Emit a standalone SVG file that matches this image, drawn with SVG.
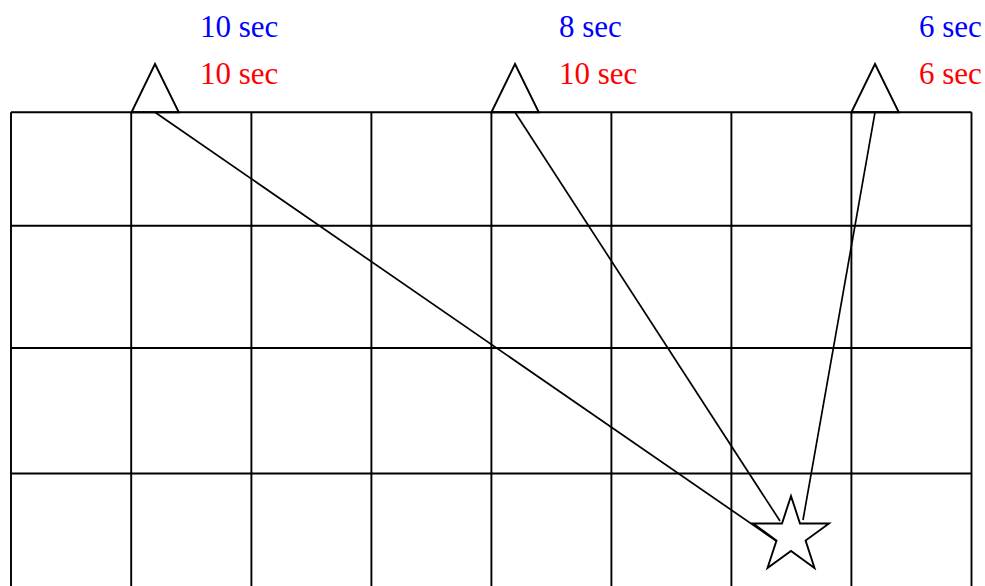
<svg xmlns="http://www.w3.org/2000/svg" width="985" height="586" viewBox="0 0 985 586">
<style>
.g{stroke:#000;stroke-width:1.9;fill:none}
.c{stroke:#000;stroke-width:1.7;fill:none}
.sh{stroke:#000;stroke-width:1.9;fill:none;stroke-linejoin:miter}
text{font-family:"Liberation Serif","Times New Roman",serif;font-size:31px}
.b{fill:#0000ff}.r{fill:#ff0000}
</style>
<rect width="985" height="586" fill="#fff"/>
<g id="grid" class="g">
<path d="M11,112.3H971.5M11,225.7H971.5M11,348H971.5M11,473.5H971.5"/>
<path d="M11,112.3V586M131.2,112.3V586M251.4,112.3V586M371.4,112.3V586M491.4,112.3V586M611.4,112.3V586M731.4,112.3V586M851.4,112.3V586M971.5,112.3V586"/>
</g>
<g id="station1"><polygon class="sh" points="155,64 131.5,112.3 178.8,112.3"/></g>
<g id="station2"><polygon class="sh" points="515,64 491.4,112.3 538.8,112.3"/></g>
<g id="station3"><polygon class="sh" points="875,64 851.4,112.3 898.8,112.3"/></g>
<g id="epicenter"><polygon class="sh" points="791,496 800,523.5 829,523.5 805.6,540.5 814.5,568 791,551 767.5,568 776.5,540.5 753,523.5 782,523.5"/></g>
<g id="connectors" class="c">
<line x1="155" y1="112.3" x2="777" y2="541.5"/>
<line x1="515" y1="112.3" x2="780" y2="521"/>
<line x1="875" y1="112.3" x2="803" y2="520"/>
</g>
<g id="labels">
<text class="b" x="200" y="37">10 sec</text>
<text class="r" x="200" y="84">10 sec</text>
<text class="b" x="559" y="37">8 sec</text>
<text class="r" x="559" y="84">10 sec</text>
<text class="b" x="919" y="37">6 sec</text>
<text class="r" x="919" y="84">6 sec</text>
</g>
</svg>
